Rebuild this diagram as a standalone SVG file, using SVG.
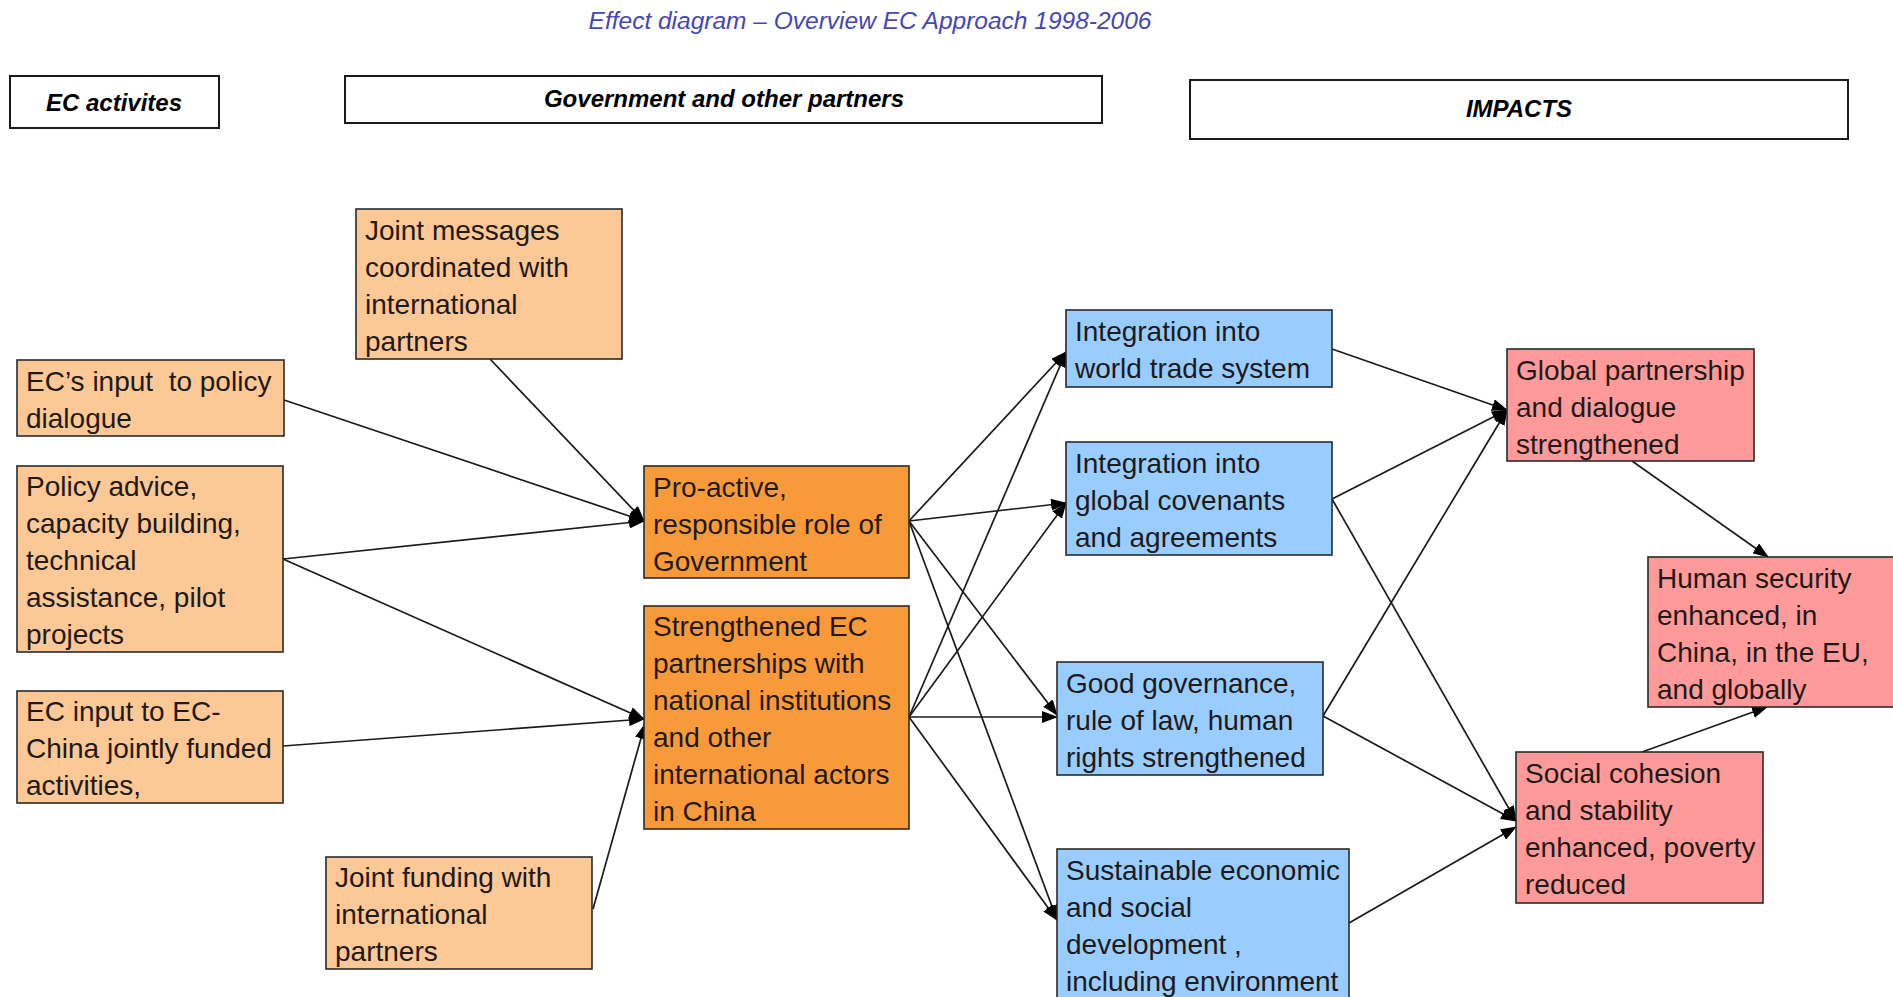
<svg xmlns="http://www.w3.org/2000/svg" width="1893" height="997" viewBox="0 0 1893 997">
<style>
.bg{fill:#ffffff}
.hdr{fill:#ffffff;stroke:#1a1a1a;stroke-width:2}
.hdrt{font-family:"Liberation Sans",Arial,sans-serif;font-weight:bold;font-style:italic;font-size:24px;fill:#000;text-anchor:middle}
.title{font-family:"Liberation Sans",Arial,sans-serif;font-style:italic;font-size:24.5px;fill:#4646b4;text-anchor:middle}
.n{stroke:#2a2a2a;stroke-width:1.6}
.lo{fill:#fcc896}
.or{fill:#f99a3a}
.bl{fill:#99ccff}
.pk{fill:#ff9a9a}
.t{font-family:"Liberation Sans",Arial,sans-serif;font-size:28px;fill:#1e1a18}
.c line{stroke:#1a1a1a;stroke-width:1.7;marker-end:url(#ah)}
</style>
<defs>
<marker id="ah" markerUnits="userSpaceOnUse" markerWidth="16" markerHeight="12" refX="15" refY="6" orient="auto">
<path d="M0,0 L16,6 L0,12 z" fill="#000"/>
</marker>
</defs>
<rect class="bg" x="0" y="0" width="1893" height="997"/>
<text class="title" x="870" y="29">Effect diagram – Overview EC Approach 1998-2006</text>

<g id="hdr-ec">
<rect class="hdr" x="10" y="76" width="209" height="52"/>
<text class="hdrt" x="114" y="111">EC activites</text>
</g>
<g id="hdr-gov">
<rect class="hdr" x="345" y="76" width="757" height="47"/>
<text class="hdrt" x="724" y="107">Government and other partners</text>
</g>
<g id="hdr-impacts">
<rect class="hdr" x="1190" y="80" width="658" height="59"/>
<text class="hdrt" x="1519" y="117">IMPACTS</text>
</g>

<g class="c" id="connectors">
<line x1="284" y1="400" x2="644" y2="521"/>
<line x1="490" y1="359" x2="644" y2="521"/>
<line x1="283" y1="559" x2="644" y2="521"/>
<line x1="283" y1="559" x2="644" y2="719"/>
<line x1="283" y1="746" x2="644" y2="719"/>
<line x1="593" y1="909" x2="645" y2="724"/>
<line x1="909" y1="521" x2="1066" y2="352"/>
<line x1="909" y1="521" x2="1066" y2="503"/>
<line x1="909" y1="521" x2="1057" y2="715"/>
<line x1="909" y1="521" x2="1057" y2="920"/>
<line x1="909" y1="717" x2="1066" y2="352"/>
<line x1="909" y1="717" x2="1066" y2="503"/>
<line x1="909" y1="717" x2="1057" y2="717"/>
<line x1="909" y1="717" x2="1057" y2="920"/>
<line x1="1332" y1="349" x2="1507" y2="410"/>
<line x1="1332" y1="499" x2="1507" y2="410"/>
<line x1="1323" y1="716" x2="1507" y2="410"/>
<line x1="1332" y1="499" x2="1516" y2="821"/>
<line x1="1323" y1="716" x2="1516" y2="821"/>
<line x1="1349" y1="923" x2="1516" y2="827"/>
<line x1="1632" y1="461" x2="1768" y2="557"/>
<line x1="1642" y1="752" x2="1767" y2="707"/>
</g>

<g id="n-joint-messages">
<rect class="n lo" x="356" y="209" width="266" height="150"/>
<text class="t" x="365" y="240">Joint messages</text>
<text class="t" x="365" y="277">coordinated with</text>
<text class="t" x="365" y="314">international</text>
<text class="t" x="365" y="351">partners</text>
</g>
<g id="n-ec-input-policy">
<rect class="n lo" x="17" y="360" width="267" height="76"/>
<text class="t" x="26" y="391" xml:space="preserve">EC’s input  to policy</text>
<text class="t" x="26" y="428">dialogue</text>
</g>
<g id="n-policy-advice">
<rect class="n lo" x="17" y="466" width="266" height="186"/>
<text class="t" x="26" y="496">Policy advice,</text>
<text class="t" x="26" y="533">capacity building,</text>
<text class="t" x="26" y="570">technical</text>
<text class="t" x="26" y="607">assistance, pilot</text>
<text class="t" x="26" y="644">projects</text>
</g>
<g id="n-ec-input-china">
<rect class="n lo" x="17" y="691" width="266" height="112"/>
<text class="t" x="26" y="721">EC input to EC-</text>
<text class="t" x="26" y="758">China jointly funded</text>
<text class="t" x="26" y="795">activities,</text>
</g>
<g id="n-joint-funding">
<rect class="n lo" x="326" y="857" width="266" height="112"/>
<text class="t" x="335" y="887">Joint funding with</text>
<text class="t" x="335" y="924">international</text>
<text class="t" x="335" y="961">partners</text>
</g>
<g id="n-pro-active">
<rect class="n or" x="644" y="466" width="265" height="112"/>
<text class="t" x="653" y="497">Pro-active,</text>
<text class="t" x="653" y="534">responsible role of</text>
<text class="t" x="653" y="571">Government</text>
</g>
<g id="n-strengthened">
<rect class="n or" x="644" y="606" width="265" height="223"/>
<text class="t" x="653" y="636">Strengthened EC</text>
<text class="t" x="653" y="673">partnerships with</text>
<text class="t" x="653" y="710">national institutions</text>
<text class="t" x="653" y="747">and other</text>
<text class="t" x="653" y="784">international actors</text>
<text class="t" x="653" y="821">in China</text>
</g>
<g id="n-world-trade">
<rect class="n bl" x="1066" y="310" width="266" height="77"/>
<text class="t" x="1075" y="341">Integration into</text>
<text class="t" x="1075" y="378">world trade system</text>
</g>
<g id="n-global-covenants">
<rect class="n bl" x="1066" y="442" width="266" height="113"/>
<text class="t" x="1075" y="473">Integration into</text>
<text class="t" x="1075" y="510">global covenants</text>
<text class="t" x="1075" y="547">and agreements</text>
</g>
<g id="n-good-governance">
<rect class="n bl" x="1057" y="662" width="266" height="113"/>
<text class="t" x="1066" y="693">Good governance,</text>
<text class="t" x="1066" y="730">rule of law, human</text>
<text class="t" x="1066" y="767">rights strengthened</text>
</g>
<g id="n-sustainable">
<rect class="n bl" x="1057" y="849" width="292" height="160"/>
<text class="t" x="1066" y="880">Sustainable economic</text>
<text class="t" x="1066" y="917">and social</text>
<text class="t" x="1066" y="954">development ,</text>
<text class="t" x="1066" y="991">including environment</text>
</g>
<g id="n-global-partnership">
<rect class="n pk" x="1507" y="349" width="247" height="112"/>
<text class="t" x="1516" y="380">Global partnership</text>
<text class="t" x="1516" y="417">and dialogue</text>
<text class="t" x="1516" y="454">strengthened</text>
</g>
<g id="n-human-security">
<rect class="n pk" x="1648" y="557" width="260" height="150"/>
<text class="t" x="1657" y="588">Human security</text>
<text class="t" x="1657" y="625">enhanced, in</text>
<text class="t" x="1657" y="662">China, in the EU,</text>
<text class="t" x="1657" y="699">and globally</text>
</g>
<g id="n-social-cohesion">
<rect class="n pk" x="1516" y="752" width="247" height="151"/>
<text class="t" x="1525" y="783">Social cohesion</text>
<text class="t" x="1525" y="820">and stability</text>
<text class="t" x="1525" y="857">enhanced, poverty</text>
<text class="t" x="1525" y="894">reduced</text>
</g>
</svg>
